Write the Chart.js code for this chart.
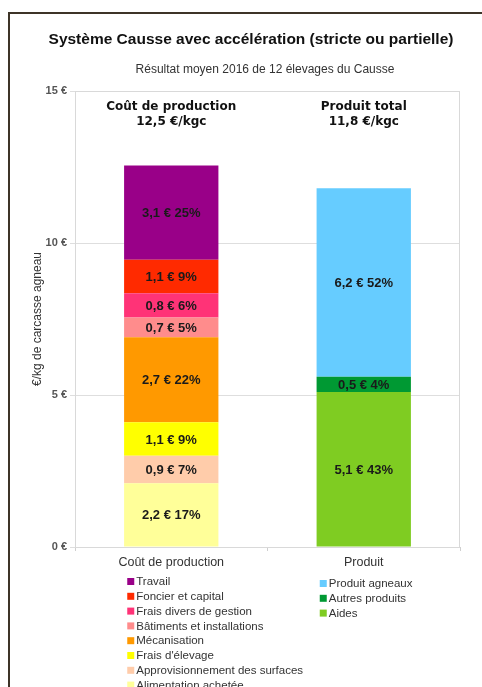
<!DOCTYPE html>
<html>
<head>
<meta charset="utf-8">
<script src="https://cdn.jsdelivr.net/npm/chart.js@4"></script>
<style>
  body { margin: 0; background: #fff; overflow: hidden; }
  #frame { position: absolute; left: 8px; top: 12px; width: 600px; height: 800px;
           border-left: 2px solid #3d3428; border-top: 2px solid #3d3428; }
  #c { position: absolute; left: 0; top: 0; }
</style>
</head>
<body>
<div id="frame"></div>
<canvas id="c" width="482" height="687"></canvas>
<script>
const categories = ["Coût de production", "Produit"];
const headers = [["Coût de production", "12,5 €/kgc"], ["Produit total", "11,8 €/kgc"]];
const yTicks = [0, 5, 10, 15];

// bottom to top
const coutNames = ["Alimentation achetée", "Approvisionnement des surfaces", "Frais d'élevage", "Mécanisation",
                   "Bâtiments et installations", "Frais divers de gestion", "Foncier et capital", "Travail"];
const coutValues = [2.1, 0.9, 1.1, 2.8, 0.65, 0.8, 1.1, 3.1];
const coutText = ["2,2 € 17%", "0,9 € 7%", "1,1 € 9%", "2,7 € 22%", "0,7 € 5%", "0,8 € 6%", "1,1 € 9%", "3,1 € 25%"];
const coutColors = ["#ffff99", "#ffccaa", "#ffff00", "#ff9900", "#ff8c8c", "#ff3377", "#ff2a00", "#990088"];

const produitNames = ["Aides", "Autres produits", "Produit agneaux"];
const produitValues = [5.1, 0.5, 6.2];
const produitText = ["5,1 € 43%", "0,5 € 4%", "6,2 € 52%"];
const produitColors = ["#7fcc22", "#009933", "#66ccff"];

const datasets = [];
coutNames.forEach((n, i) => datasets.push({
    label: n, data: [coutValues[i], null], text: coutText[i], col: 0,
    backgroundColor: coutColors[i], stack: 's'
}));
produitNames.forEach((n, i) => datasets.push({
    label: n, data: [null, produitValues[i]], text: produitText[i], col: 1,
    backgroundColor: produitColors[i], stack: 's'
}));

const overlay = {
    id: 'overlay',
    afterDatasetsDraw(chart) {
        const ctx = chart.ctx;
        ctx.save();
        ctx.font = 'bold 13px "Liberation Sans", Arial, sans-serif';
        ctx.fillStyle = '#1a1a1a';
        ctx.textAlign = 'center';
        ctx.textBaseline = 'middle';
        chart.data.datasets.forEach((ds, di) => {
            const el = chart.getDatasetMeta(di).data[ds.col];
            ctx.fillText(ds.text, el.x, (el.y + el.base) / 2 + 1);
        });
        ctx.restore();
    },
    afterDraw(chart) {
        const ctx = chart.ctx;
        const a = chart.chartArea;
        const xs = chart.scales.x;
        ctx.save();
        // plot border
        ctx.strokeStyle = '#d9d9d9';
        ctx.lineWidth = 1;
        ctx.strokeRect(a.left + 0.5, a.top + 0.5, a.right - a.left - 1, a.bottom - a.top);
        // titles
        ctx.textAlign = 'center';
        ctx.textBaseline = 'middle';
        ctx.fillStyle = '#111';
        ctx.font = 'bold 15.5px "Liberation Sans", Arial, sans-serif';
        ctx.fillText("Système Causse avec accélération (stricte ou partielle)", 251, 40);
        ctx.fillStyle = '#333';
        ctx.font = '12px "Liberation Sans", Arial, sans-serif';
        ctx.fillText("Résultat moyen 2016 de 12 élevages du Causse", 265, 70);
        // column headers
        ctx.fillStyle = '#111';
        ctx.font = 'bold 12px "DejaVu Sans", sans-serif';
        headers.forEach((h, i) => {
            const x = xs.getPixelForValue(i);
            ctx.fillText(h[0], x, a.top + 16);
            ctx.fillText(h[1], x, a.top + 31);
        });
        // legend, one column per category, top of stack first
        ctx.textAlign = 'left';
        ctx.font = '11.5px "Liberation Sans", Arial, sans-serif';
        [0, 1].forEach(col => {
            const items = chart.data.datasets.filter(d => d.col === col).reverse();
            const x0 = xs.getPixelForValue(col) - 44;
            items.forEach((d, k) => {
                const y = a.bottom + 34 + col * 2 + k * 14.8;
                ctx.fillStyle = d.backgroundColor;
                ctx.fillRect(x0, y - 3, 7, 7);
                ctx.fillStyle = '#333';
                ctx.fillText(d.label, x0 + 9, y + 1);
            });
        });
        ctx.restore();
    }
};

new Chart(document.getElementById('c'), {
    type: 'bar',
    data: { labels: categories, datasets: datasets },
    options: {
        responsive: false,
        animation: false,
        layout: { padding: { left: 30, right: 22, top: 91, bottom: 0 } },
        plugins: { legend: { display: false }, tooltip: { enabled: false } },
        datasets: { bar: { categoryPercentage: 1, barPercentage: 0.49 } },
        scales: {
            x: {
                stacked: true,
                afterFit: s => { s.height = 140; },
                grid: { drawOnChartArea: false, color: '#cfcfcf', tickLength: 4 },
                border: { color: '#d0d0d0' },
                ticks: { color: '#333', padding: 4, font: { size: 12.5, family: '"Liberation Sans", Arial, sans-serif' } }
            },
            y: {
                stacked: true,
                min: 0, max: 15,
                afterFit: s => { s.width = 45; },
                afterBuildTicks: s => { s.ticks = yTicks.map(v => ({ value: v })); },
                grid: { color: '#dedede', tickLength: 5 },
                border: { color: '#d0d0d0' },
                ticks: {
                    color: '#555', padding: 3,
                    font: { size: 11, weight: 'bold', family: '"Liberation Sans", Arial, sans-serif' },
                    callback: v => v + ' €'
                },
                title: {
                    display: true, text: '€/kg de carcasse agneau', color: '#333', padding: 0,
                    font: { size: 12, family: '"Liberation Sans", Arial, sans-serif' }
                }
            }
        }
    },
    plugins: [overlay]
});
</script>
</body>
</html>
